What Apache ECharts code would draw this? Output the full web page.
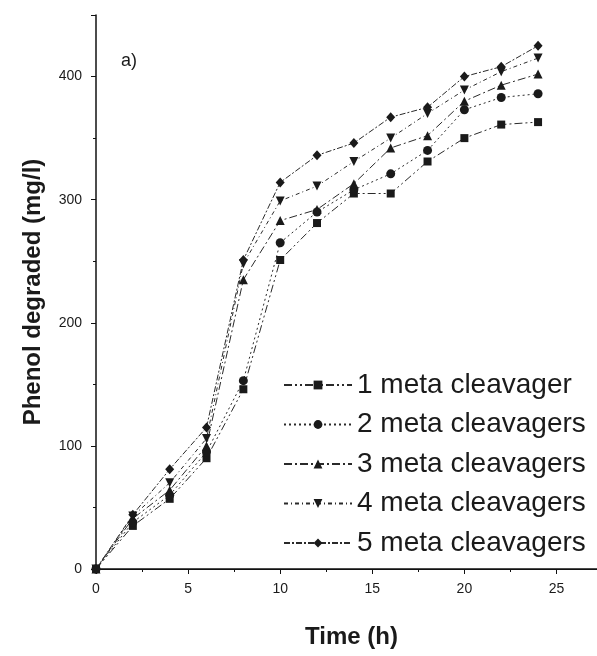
<!DOCTYPE html>
<html>
<head>
<meta charset="utf-8">
<script src="https://cdn.jsdelivr.net/npm/echarts@6/dist/echarts.min.js"></script>
<style>
  html, body { margin: 0; padding: 0; background: #fff; }
  #chart { width: 597px; height: 656px; }
</style>
</head>
<body>
<div id="chart"></div>
<script>
// Sampling times (h)
const times = [0, 2, 4, 6, 8, 10, 12, 14, 16, 18, 20, 22, 24];

// Phenol degraded (mg/l) per strain count
const meta1 = [0, 35, 57, 90, 146, 251, 281, 305, 305, 331, 350, 361, 363];
const meta2 = [0, 38, 60, 95, 153, 265, 290, 308, 321, 340, 373, 383, 386];
const meta3 = [0, 41, 64, 100, 235, 283, 292, 313, 342, 352, 380, 393, 402];
const meta4 = [0, 43, 70, 106, 248, 299, 311, 331, 350, 370, 389, 404, 415];
const meta5 = [0, 44, 81, 115, 251, 314, 336, 346, 367, 375, 400, 408, 425];

const seriesNames = [
  '1 meta cleavager',
  '2 meta cleavagers',
  '3 meta cleavagers',
  '4 meta cleavagers',
  '5 meta cleavagers'
];

const FONT = '"Liberation Sans", Arial, Helvetica, sans-serif';
const INK = '#1a1a1a';

function pairs(values) {
  return times.map((t, i) => [t, values[i]]);
}

const styles = [
  { symbol: 'rect', size: 8, dash: [8, 3, 2, 3, 2, 3] },
  { symbol: 'circle', size: 9, dash: [2, 3] },
  { symbol: 'triangle', size: 9, dash: [8, 3, 2, 3] },
  { symbol: 'path://M0,0 L10,0 L5,9 Z', size: 9, dash: [4, 3, 1, 3] },
  { symbol: 'diamond', size: [9, 10], dash: [6, 2, 2, 2] }
];

const valueSets = [meta1, meta2, meta3, meta4, meta5];

const series = valueSets.map((vals, k) => ({
  name: seriesNames[k],
  type: 'line',
  data: pairs(vals),
  symbol: styles[k].symbol,
  symbolSize: styles[k].size,
  showAllSymbol: true,
  itemStyle: { color: INK },
  lineStyle: { color: '#2a2a2a', width: 1, type: styles[k].dash },
  emphasis: { disabled: true },
  animation: false,
  z: 3
}));

const chart = echarts.init(document.getElementById('chart'), null, { renderer: 'canvas' });

chart.setOption({
  backgroundColor: '#ffffff',
  animation: false,
  grid: { left: 96, right: 0, top: 15, bottom: 87, containLabel: false },
  legend: {
    orient: 'vertical',
    left: 278,
    top: 365,
    itemWidth: 68,
    itemHeight: 11,
    itemGap: 9.5,
    data: seriesNames,
    textStyle: { fontFamily: FONT, fontSize: 28, color: INK, lineHeight: 30 },
    selectedMode: false
  },
  graphic: [
    {
      type: 'text',
      left: 121,
      top: 52,
      style: { text: 'a)', fontFamily: FONT, fontSize: 18, fill: INK }
    }
  ],
  xAxis: [
    {
      type: 'value',
      min: 0,
      max: 27.2,
      interval: 5,
      name: 'Time (h)',
      nameLocation: 'middle',
      nameGap: 56,
      nameTextStyle: { fontFamily: FONT, fontSize: 24, fontWeight: 'bold', color: INK, padding: [0, 0, 0, 10] },
      axisLine: { show: true, onZero: false, lineStyle: { color: '#111', width: 1.5 } },
      axisTick: { show: true, inside: false, length: 5, lineStyle: { color: '#111', width: 1 } },
      minorTick: { show: true, splitNumber: 2, length: 3, lineStyle: { color: '#111', width: 1 } },
      axisLabel: { margin: 13, fontFamily: FONT, fontSize: 14, color: INK, showMaxLabel: false },
      splitLine: { show: false }
    },
    {
      type: 'value',
      position: 'top',
      min: 0,
      max: 27.2,
      axisLine: { show: true, lineStyle: { color: '#111', width: 1.2 } },
      axisTick: { show: false },
      axisLabel: { show: false },
      splitLine: { show: false }
    }
  ],
  yAxis: {
    type: 'value',
    min: 0,
    max: 450,
    interval: 100,
    name: 'Phenol degraded (mg/l)',
    nameLocation: 'middle',
    nameGap: 51,
    nameRotate: 90,
    nameTextStyle: { fontFamily: FONT, fontSize: 24, fontWeight: 'bold', color: INK },
    axisLine: { show: true, lineStyle: { color: '#111', width: 1.5 } },
    axisTick: { show: true, inside: false, length: 5, lineStyle: { color: '#111', width: 1 } },
    minorTick: { show: true, splitNumber: 2, length: 3, lineStyle: { color: '#111', width: 1 } },
    axisLabel: { margin: 14, fontFamily: FONT, fontSize: 14, color: INK, showMaxLabel: false },
    splitLine: { show: false }
  },
  series: series
});
</script>
</body>
</html>
